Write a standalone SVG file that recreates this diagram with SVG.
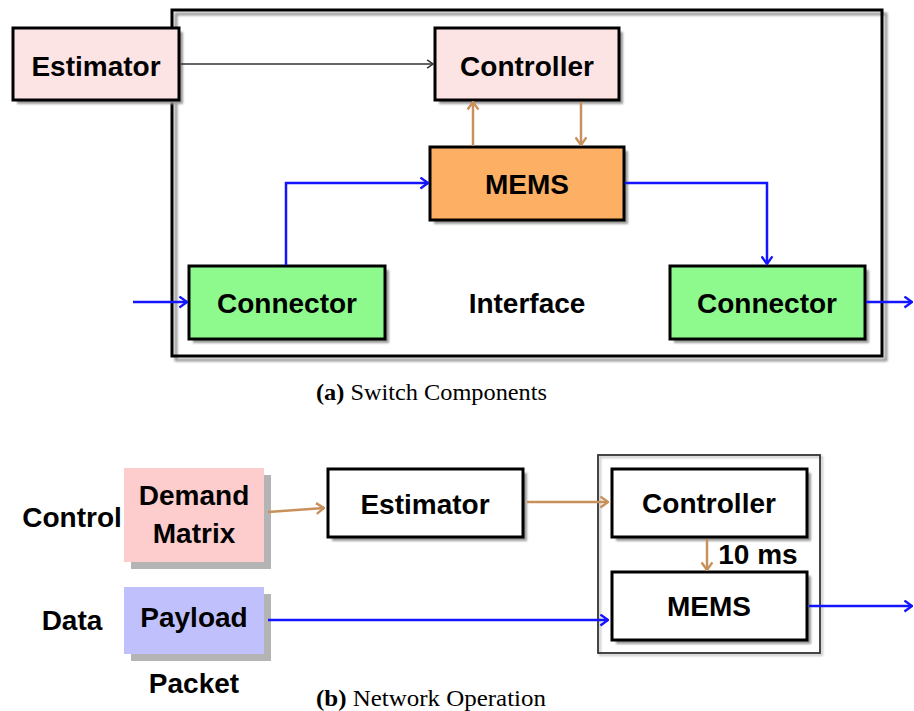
<svg xmlns="http://www.w3.org/2000/svg" width="914" height="711" viewBox="0 0 914 711">
  <style>
    .lbl { font-family: "Liberation Sans", Arial, sans-serif; font-weight: bold; font-size: 28px; fill: #000; text-anchor: middle; }
    .cap { font-family: "Liberation Serif", "Times New Roman", serif; font-size: 23px; fill: #000; }
    .box { stroke: #000; stroke-width: 3; }
    .shadow { fill: #9a9a9a; filter: url(#soft); }
    .flat-shadow { fill: #b4b4b4; }
    .blue { fill: none; stroke: #1414ff; stroke-width: 2.5; }
    .brown { fill: none; stroke: #c8905a; stroke-width: 2.5; }
    .black { fill: none; stroke: #333; stroke-width: 1.5; }
  </style>
  <defs>
    <filter id="soft" x="-10%" y="-10%" width="120%" height="120%">
      <feGaussianBlur stdDeviation="1.2"/>
    </filter>
    <marker id="ah-blue" viewBox="0 0 12 12" refX="11" refY="6" markerWidth="13" markerHeight="13" markerUnits="userSpaceOnUse" orient="auto">
      <path d="M4,1 L11,6 L4,11" fill="none" stroke="#1414ff" stroke-width="2.2"/>
    </marker>
    <marker id="ah-brown" viewBox="0 0 12 12" refX="11" refY="6" markerWidth="13" markerHeight="13" markerUnits="userSpaceOnUse" orient="auto">
      <path d="M4,1 L11,6 L4,11" fill="none" stroke="#c8905a" stroke-width="2.2"/>
    </marker>
    <marker id="ah-black" viewBox="0 0 12 12" refX="11" refY="6" markerWidth="10" markerHeight="10" markerUnits="userSpaceOnUse" orient="auto">
      <path d="M4,1 L11,6 L4,11" fill="none" stroke="#333" stroke-width="1.8"/>
    </marker>
  </defs>

  <rect width="914" height="711" fill="#fff"/>

  <!-- (a) switch components -->
  <g id="interface-frame">
    <rect x="176" y="14" width="710" height="346" fill="none" stroke="#9a9a9a" stroke-width="3" filter="url(#soft)"/>
    <rect x="172" y="10" width="710" height="346" fill="none" class="box"/>
    <text x="527" y="313" class="lbl">Interface</text>
  </g>

  <g id="a-estimator">
    <rect x="17" y="32" width="166" height="72" class="shadow"/>
    <rect x="13" y="28" width="166" height="72" fill="#fde4e4" class="box"/>
    <text x="96" y="76" class="lbl">Estimator</text>
  </g>

  <g id="a-controller">
    <rect x="439" y="32" width="184" height="72" class="shadow"/>
    <rect x="435" y="28" width="184" height="72" fill="#fde4e4" class="box"/>
    <text x="527" y="76" class="lbl">Controller</text>
  </g>

  <g id="a-mems">
    <rect x="434" y="151" width="194" height="73" class="shadow"/>
    <rect x="430" y="147" width="194" height="73" fill="#fdb064" class="box"/>
    <text x="527" y="194" class="lbl">MEMS</text>
  </g>

  <g id="a-connector-in">
    <rect x="193" y="270" width="196" height="73" class="shadow"/>
    <rect x="189" y="266" width="196" height="73" fill="#8efa8e" class="box"/>
    <text x="287" y="313" class="lbl">Connector</text>
  </g>

  <g id="a-connector-out">
    <rect x="674" y="270" width="195" height="73" class="shadow"/>
    <rect x="670" y="266" width="195" height="73" fill="#8efa8e" class="box"/>
    <text x="767" y="313" class="lbl">Connector</text>
  </g>

  <g id="a-connectors">
    <line x1="181" y1="64" x2="433" y2="64" class="black" marker-end="url(#ah-black)"/>
    <line x1="473" y1="146" x2="473" y2="102" class="brown" marker-end="url(#ah-brown)"/>
    <line x1="581" y1="102" x2="581" y2="145" class="brown" marker-end="url(#ah-brown)"/>
    <polyline points="286,265 286,183 428,183" class="blue" marker-end="url(#ah-blue)"/>
    <polyline points="625,183 767,183 767,264" class="blue" marker-end="url(#ah-blue)"/>
    <line x1="133" y1="302" x2="187" y2="302" class="blue" marker-end="url(#ah-blue)"/>
    <line x1="866" y1="302" x2="912" y2="302" class="blue" marker-end="url(#ah-blue)"/>
  </g>

  <text x="316" y="400" class="cap" textLength="231" lengthAdjust="spacingAndGlyphs"><tspan font-weight="bold">(a)</tspan> Switch Components</text>

  <!-- (b) network operation -->
  <text x="72" y="527" class="lbl">Control</text>
  <text x="72" y="630" class="lbl">Data</text>

  <g id="b-demand-matrix">
    <rect x="131" y="475" width="140" height="94" class="flat-shadow"/>
    <rect x="124" y="468" width="140" height="94" fill="#fdcccc"/>
    <text x="194" y="505" class="lbl">Demand</text>
    <text x="194" y="543" class="lbl">Matrix</text>
  </g>

  <g id="b-payload">
    <rect x="131" y="594" width="140" height="67" class="flat-shadow"/>
    <rect x="124" y="587" width="140" height="67" fill="#c0c0fc"/>
    <text x="194" y="627" class="lbl">Payload</text>
  </g>
  <text x="194" y="693" class="lbl">Packet</text>

  <g id="b-estimator">
    <rect x="332" y="473" width="195" height="68" class="shadow"/>
    <rect x="328" y="469" width="195" height="68" fill="#fff" class="box"/>
    <text x="425" y="514" class="lbl">Estimator</text>
  </g>

  <g id="b-switch-frame">
    <rect x="600" y="457" width="222" height="198" fill="none" stroke="#c4c4c4" stroke-width="2" filter="url(#soft)"/>
    <rect x="598" y="455" width="222" height="198" fill="none" stroke="#333" stroke-width="1.8"/>
  </g>

  <g id="b-controller">
    <rect x="616" y="473" width="195" height="68" class="shadow"/>
    <rect x="612" y="469" width="195" height="68" fill="#fff" class="box"/>
    <text x="709" y="513" class="lbl">Controller</text>
  </g>

  <g id="b-mems">
    <rect x="616" y="576" width="195" height="68" class="shadow"/>
    <rect x="612" y="572" width="195" height="68" fill="#fff" class="box"/>
    <text x="709" y="616" class="lbl">MEMS</text>
  </g>

  <text x="758" y="564" class="lbl">10 ms</text>

  <g id="b-connectors">
    <line x1="268" y1="512" x2="324" y2="508" class="brown" marker-end="url(#ah-brown)"/>
    <line x1="527" y1="502" x2="608" y2="502" class="brown" marker-end="url(#ah-brown)"/>
    <line x1="707" y1="539" x2="707" y2="570" class="brown" marker-end="url(#ah-brown)"/>
    <line x1="268" y1="620" x2="608" y2="620" class="blue" marker-end="url(#ah-blue)"/>
    <line x1="809" y1="606" x2="912" y2="606" class="blue" marker-end="url(#ah-blue)"/>
  </g>

  <text x="316" y="706" class="cap" textLength="230" lengthAdjust="spacingAndGlyphs"><tspan font-weight="bold">(b)</tspan> Network Operation</text>
</svg>
